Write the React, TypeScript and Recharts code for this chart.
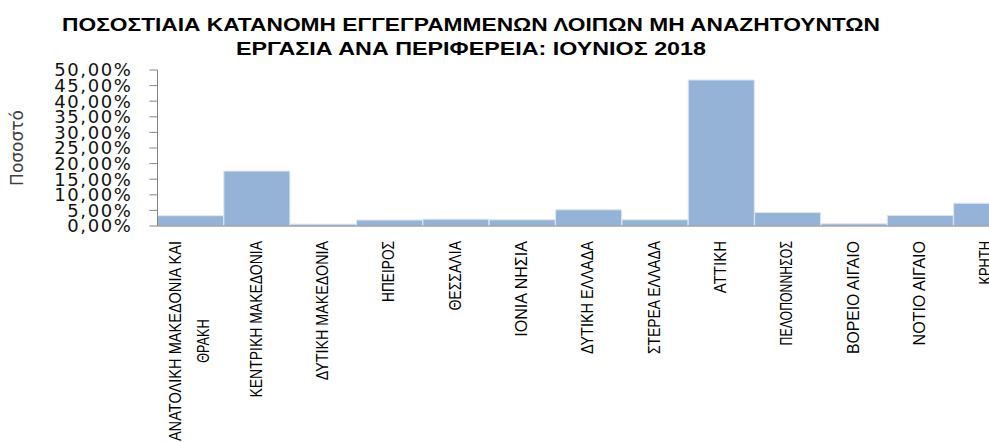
// Share of registered "other non job-seekers" by region, June 2018 — Excel-style column chart.
import { Bar, BarChart, Label, XAxis, YAxis } from 'recharts';

const regions = [
  'ΑΝΑΤΟΛΙΚΗ ΜΑΚΕΔΟΝΙΑ ΚΑΙ ΘΡΑΚΗ',
  'ΚΕΝΤΡΙΚΗ ΜΑΚΕΔΟΝΙΑ',
  'ΔΥΤΙΚΗ ΜΑΚΕΔΟΝΙΑ',
  'ΗΠΕΙΡΟΣ',
  'ΘΕΣΣΑΛΙΑ',
  'ΙΟΝΙΑ ΝΗΣΙΑ',
  'ΔΥΤΙΚΗ ΕΛΛΑΔΑ',
  'ΣΤΕΡΕΑ ΕΛΛΑΔΑ',
  'ΑΤΤΙΚΗ',
  'ΠΕΛΟΠΟΝΝΗΣΟΣ',
  'ΒΟΡΕΙΟ ΑΙΓΑΙΟ',
  'ΝΟΤΙΟ ΑΙΓΑΙΟ',
  'ΚΡΗΤΗ',
];
const shares = [3.3, 17.6, 0.6, 1.9, 2.2, 2.0, 5.2, 2.0, 46.8, 4.3, 0.7, 3.4, 7.3];
const yTicks = [0, 5, 10, 15, 20, 25, 30, 35, 40, 45, 50];

const titleLines = [
  'ΠΟΣΟΣΤΙΑΙΑ ΚΑΤΑΝΟΜΗ ΕΓΓΕΓΡΑΜΜΕΝΩΝ ΛΟΙΠΩΝ ΜΗ ΑΝΑΖΗΤΟΥΝΤΩΝ',
  'ΕΡΓΑΣΙΑ ΑΝΑ ΠΕΡΙΦΕΡΕΙΑ: ΙΟΥΝΙΟΣ 2018',
];

const data = regions.map((region, i) => ({ region, share: shares[i] }));

// narrow look of the Excel category labels: squeeze Liberation Sans to ~8.7px per char
const CHAR_W = 8.7;

function wrap(text: string, max: number) {
  const lines: string[] = [];
  let cur = '';
  text.split(' ').forEach((w) => {
    const next = cur ? cur + ' ' + w : w;
    if (next.length > max && cur) {
      lines.push(cur);
      cur = w;
    } else cur = next;
  });
  if (cur) lines.push(cur);
  return lines;
}

function RegionTick({ x, y, payload }: any) {
  const lines = wrap(payload.value, 24);
  const top = y + 7;
  const longest = Math.max(...lines.map((l) => l.length));
  const mid = top + (longest * CHAR_W) / 2;
  const spacing = 28;
  return (
    <g>
      {lines.map((line, i) => {
        const lx = x - 1 + (i - (lines.length - 1) / 2) * spacing;
        return (
          <text
            key={i}
            x={lx}
            y={mid}
            transform={`rotate(-90, ${lx}, ${mid})`}
            textAnchor="middle"
            dominantBaseline="central"
            fontFamily='"Liberation Sans", Arial, sans-serif'
            fontSize={17}
            textLength={line.length * CHAR_W}
            lengthAdjust="spacingAndGlyphs"
            fill="#000"
          >
            {line}
          </text>
        );
      })}
    </g>
  );
}

const pct = (v: number) => v.toFixed(2).replace('.', ',') + '%';

export default function App() {
  return (
    <div
      style={{
        position: 'fixed',
        top: 0,
        left: 0,
        width: 989,
        height: 442,
        overflow: 'hidden',
        background: '#fff',
      }}
    >
      <svg width={989} height={62} style={{ position: 'absolute', top: 0, left: 0 }}>
        {titleLines.map((t, i) => (
          <text
            key={i}
            x={471}
            y={31 + i * 24}
            textAnchor="middle"
            fontFamily='"Liberation Sans", Arial, sans-serif'
            fontWeight="bold"
            fontSize={19}
            fill="#000"
            textLength={i === 0 ? 818 : 470}
            lengthAdjust="spacingAndGlyphs"
          >
            {t}
          </text>
        ))}
      </svg>
      <BarChart
        width={1020}
        height={442}
        data={data}
        margin={{ top: 70, right: 0, bottom: 0, left: 0 }}
        barCategoryGap={0}
        barGap={0}
      >
        <XAxis
          dataKey="region"
          height={216}
          interval={0}
          stroke="#868686"
          tickLine={false}
          tick={<RegionTick />}
        />
        <YAxis
          width={157.5}
          domain={[0, 50]}
          ticks={yTicks}
          interval={0}
          tickFormatter={pct}
          stroke="#868686"
          tickSize={8}
          tickMargin={17}
          tick={{
            fill: '#111',
            fontSize: 18,
            fontFamily: '"DejaVu Sans", sans-serif',
            letterSpacing: 1.6,
          }}
        >
          <Label
            content={({ viewBox }: any) => {
              const cy = viewBox.y + viewBox.height / 2;
              return (
                <text
                  x={17}
                  y={cy}
                  transform={`rotate(-90, 17, ${cy})`}
                  textAnchor="middle"
                  dominantBaseline="central"
                  fontFamily='"DejaVu Sans", sans-serif'
                  fontSize={17}
                  fill="#404040"
                >
                  Ποσοστό
                </text>
              );
            }}
          />
        </YAxis>
        <Bar dataKey="share" fill="#95b3d7" stroke="#dce6f2" strokeWidth={1} isAnimationActive={false} />
      </BarChart>
    </div>
  );
}
